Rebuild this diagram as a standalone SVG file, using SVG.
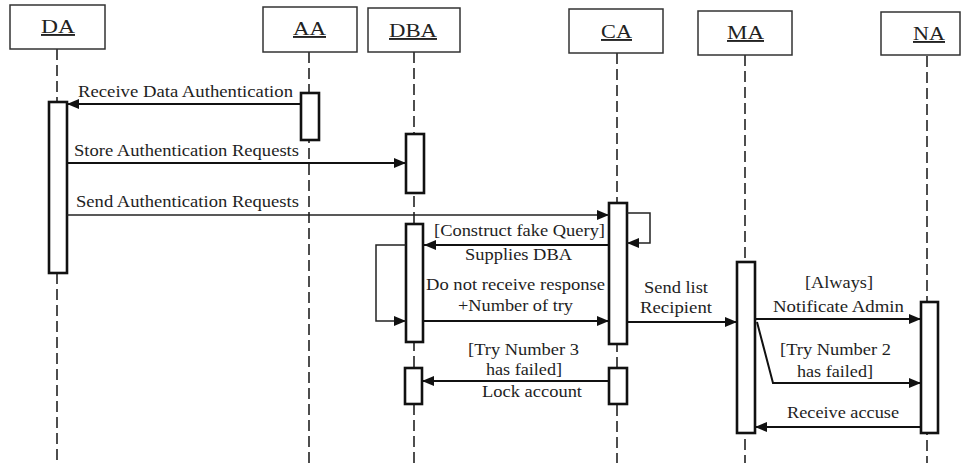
<svg xmlns="http://www.w3.org/2000/svg" width="965" height="463" viewBox="0 0 965 463">
  <style>
    .head { fill: #fff; stroke: #333; stroke-width: 1.5; }
    .name { font-family: "Liberation Serif", "Times New Roman", serif; font-size: 19px; fill: #222; text-decoration: underline; }
    .life { stroke: #222; stroke-width: 1.6; stroke-dasharray: 11 5; fill: none; }
    .act { fill: #fff; stroke: #111; stroke-width: 2.6; }
    .msg { stroke: #111; stroke-width: 2; fill: none; }
    .thin { stroke: #222; stroke-width: 1.5; fill: none; }
    .lbl { font-family: "Liberation Serif", "Times New Roman", serif; font-size: 17px; fill: #1e1e1e; }
  </style>
  <defs>
    <marker id="arrow" markerUnits="userSpaceOnUse" markerWidth="13" markerHeight="11" refX="12" refY="5" orient="auto">
      <path d="M0,0 L12,5 L0,10 Z" fill="#111"/>
    </marker>
  </defs>
  <rect width="965" height="463" fill="#fff"/>

  <!-- participants: header, lifeline, activation bars -->
  <g id="DA">
    <line class="life" x1="57" y1="49" x2="57" y2="463"/>
    <rect class="head" x="10" y="5" width="95" height="44"/>
    <text class="name" x="41" y="33" textLength="34" lengthAdjust="spacingAndGlyphs">DA</text>
    <rect class="act" x="49" y="102" width="18" height="171"/>
  </g>
  <g id="AA">
    <line class="life" x1="309" y1="52" x2="309" y2="463"/>
    <rect class="head" x="263" y="7" width="94" height="45"/>
    <text class="name" x="293" y="35" textLength="33" lengthAdjust="spacingAndGlyphs">AA</text>
    <rect class="act" x="301" y="93" width="18" height="47"/>
  </g>
  <g id="DBA">
    <line class="life" x1="414" y1="52" x2="414" y2="463"/>
    <rect class="head" x="368" y="8" width="92" height="44"/>
    <text class="name" x="389" y="37" textLength="48" lengthAdjust="spacingAndGlyphs">DBA</text>
    <rect class="act" x="406" y="134" width="18" height="59"/>
    <rect class="act" x="406" y="224" width="17" height="118"/>
    <rect class="act" x="405" y="368" width="17" height="36"/>
  </g>
  <g id="CA">
    <line class="life" x1="617" y1="53" x2="617" y2="463"/>
    <rect class="head" x="569" y="9" width="94" height="44"/>
    <text class="name" x="601" y="38" textLength="31" lengthAdjust="spacingAndGlyphs">CA</text>
    <rect class="act" x="609" y="203" width="18" height="141"/>
    <rect class="act" x="609" y="368" width="18" height="36"/>
  </g>
  <g id="MA">
    <line class="life" x1="745" y1="55" x2="745" y2="463"/>
    <rect class="head" x="698" y="11" width="94" height="44"/>
    <text class="name" x="727" y="39" textLength="37" lengthAdjust="spacingAndGlyphs">MA</text>
    <rect class="act" x="737" y="262" width="18" height="171"/>
  </g>
  <g id="NA">
    <line class="life" x1="927" y1="56" x2="927" y2="463"/>
    <rect class="head" x="881" y="12" width="79" height="43"/>
    <text class="name" x="913" y="40" textLength="32" lengthAdjust="spacingAndGlyphs">NA</text>
    <rect class="act" x="921" y="302" width="17" height="131"/>
  </g>

  <!-- messages -->
  <g id="connectors">
    <path class="msg" d="M301,104 H67" marker-end="url(#arrow)"/>
    <text class="lbl" x="78" y="97" textLength="215" lengthAdjust="spacingAndGlyphs">Receive Data Authentication</text>

    <path class="msg" d="M67,163 H406" marker-end="url(#arrow)"/>
    <text class="lbl" x="74" y="156" textLength="225" lengthAdjust="spacingAndGlyphs">Store Authentication Requests</text>

    <path class="thin" d="M67,215 H609" marker-end="url(#arrow)"/>
    <text class="lbl" x="76" y="207" textLength="223" lengthAdjust="spacingAndGlyphs">Send Authentication Requests</text>

    <path class="thin" d="M627,213 H650 V243 H627" marker-end="url(#arrow)"/>
    <text class="lbl" x="434" y="236" textLength="171" lengthAdjust="spacingAndGlyphs">[Construct fake Query]</text>

    <path class="msg" d="M609,245 H424" marker-end="url(#arrow)"/>
    <text class="lbl" x="465" y="260" textLength="107" lengthAdjust="spacingAndGlyphs">Supplies DBA</text>

    <path class="thin" d="M406,245 H376 V321 H406" marker-end="url(#arrow)"/>

    <path class="msg" d="M424,321 H609" marker-end="url(#arrow)"/>
    <text class="lbl" x="426" y="290" textLength="179" lengthAdjust="spacingAndGlyphs">Do not receive response</text>
    <text class="lbl" x="458" y="311" textLength="115" lengthAdjust="spacingAndGlyphs">+Number of try</text>

    <path class="msg" d="M627,322 H737" marker-end="url(#arrow)"/>
    <text class="lbl" x="644" y="293" textLength="64" lengthAdjust="spacingAndGlyphs">Send list</text>
    <text class="lbl" x="640" y="313" textLength="72" lengthAdjust="spacingAndGlyphs">Recipient</text>

    <path class="msg" d="M755,319 H921" marker-end="url(#arrow)"/>
    <text class="lbl" x="805" y="288" textLength="68" lengthAdjust="spacingAndGlyphs">[Always]</text>
    <text class="lbl" x="773" y="312" textLength="131" lengthAdjust="spacingAndGlyphs">Notificate Admin</text>

    <path class="msg" d="M757,322 L773,383 H921" marker-end="url(#arrow)"/>
    <text class="lbl" x="780" y="355" textLength="111" lengthAdjust="spacingAndGlyphs">[Try Number 2</text>
    <text class="lbl" x="797" y="377" textLength="76" lengthAdjust="spacingAndGlyphs">has failed]</text>

    <path class="msg" d="M921,427 H755" marker-end="url(#arrow)"/>
    <text class="lbl" x="787" y="418" textLength="112" lengthAdjust="spacingAndGlyphs">Receive accuse</text>

    <path class="msg" d="M609,381 H422" marker-end="url(#arrow)"/>
    <text class="lbl" x="468" y="355" textLength="111" lengthAdjust="spacingAndGlyphs">[Try Number 3</text>
    <text class="lbl" x="486" y="375" textLength="76" lengthAdjust="spacingAndGlyphs">has failed]</text>
    <text class="lbl" x="482" y="397" textLength="100" lengthAdjust="spacingAndGlyphs">Lock account</text>
  </g>
</svg>
